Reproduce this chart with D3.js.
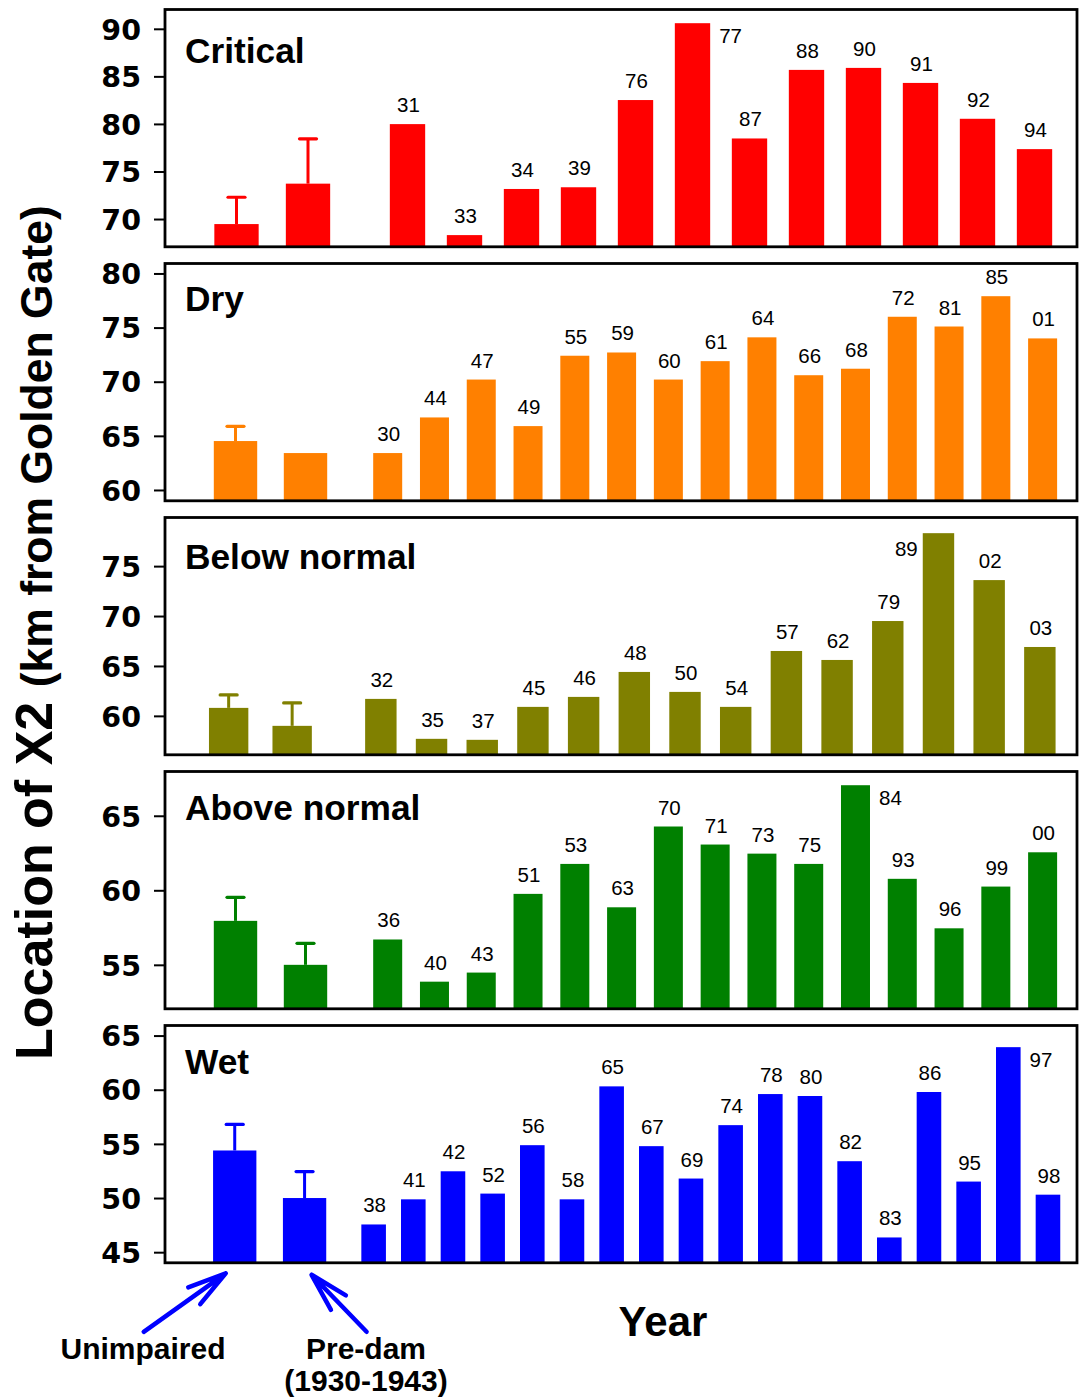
<!DOCTYPE html>
<html>
<head>
<meta charset="utf-8">
<script src="https://cdn.jsdelivr.net/npm/d3@7"></script>
<style>
  html, body { margin: 0; padding: 0; background: #fff; }
  svg { display: block; }
</style>
</head>
<body>
<svg id="chart" width="1083" height="1400"></svg>
<script>
// ---------------- DATA ----------------
const panelNames = ["Critical", "Dry", "Below normal", "Above normal", "Wet"];
const panelColors = ["#ff0000", "#ff8000", "#808000", "#008000", "#0000ff"];
const refCategories = ["Unimpaired", "Pre-dam"];

const criticalYears = ["31","33","34","39","76","77","87","88","90","91","92","94"];
const criticalValues = [79.98,68.31,73.16,73.34,82.51,90.59,78.47,85.68,85.89,84.31,80.54,77.35];
const criticalRef = [69.47, 73.72];
const criticalRefUpper = [72.29, 78.43];
const criticalTicks = [70, 75, 80, 85, 90];

const dryYears = ["30","44","47","49","55","59","60","61","64","66","68","72","81","85","01"];
const dryValues = [63.41,66.7,70.2,65.9,72.4,72.7,70.2,71.9,74.1,70.6,71.2,76.0,75.1,77.9,74.0];
const dryRef = [64.52, 63.41];
const dryRefUpper = [65.88, null];
const dryTicks = [60, 65, 70, 75, 80];

const belowYears = ["32","35","37","45","46","48","50","54","57","62","79","89","02","03"];
const belowValues = [61.7,57.7,57.6,60.9,61.9,64.4,62.4,60.9,66.5,65.6,69.5,78.3,73.6,66.9];
const belowRef = [60.8, 59.0];
const belowRefUpper = [62.1, 61.3];
const belowTicks = [60, 65, 70, 75];

const aboveYears = ["36","40","43","51","53","63","70","71","73","75","84","93","96","99","00"];
const aboveValues = [56.7,53.87,54.48,59.76,61.77,58.86,64.28,63.07,62.46,61.77,67.05,60.77,57.45,60.25,62.55];
const aboveRef = [57.95, 55.0];
const aboveRefUpper = [59.53, 56.44];
const aboveTicks = [55, 60, 65];

const wetYears = ["38","41","42","52","56","58","65","67","69","74","78","80","82","83","86","95","97","98"];
const wetValues = [47.56,49.88,52.47,50.41,54.88,49.88,60.31,54.79,51.8,56.73,59.6,59.42,53.4,46.36,59.79,51.52,63.93,50.31];
const wetRef = [54.39, 50.0];
const wetRefUpper = [56.8, 52.44];
const wetTicks = [45, 50, 55, 60, 65];

// labels placed beside the bar instead of above it
const sideLabels = { "77": "right", "89": "left", "84": "right", "97": "right" };

// ---------------- LAYOUT ----------------
const series = [
  { years: criticalYears, values: criticalValues, ref: criticalRef, upper: criticalRefUpper, ticks: criticalTicks },
  { years: dryYears, values: dryValues, ref: dryRef, upper: dryRefUpper, ticks: dryTicks },
  { years: belowYears, values: belowValues, ref: belowRef, upper: belowRefUpper, ticks: belowTicks },
  { years: aboveYears, values: aboveValues, ref: aboveRef, upper: aboveRefUpper, ticks: aboveTicks },
  { years: wetYears, values: wetValues, ref: wetRef, upper: wetRefUpper, ticks: wetTicks }
];

const layout = [
  { domain: [67.08, 92.03], refRange: [200.75, 343.75], yearRange: [379, 1063], titleDy: 53.5 },
  { domain: [59.0, 80.92], refRange: [200.5, 340.5], yearRange: [364.3, 1066], titleDy: 47.7 },
  { domain: [56.1, 79.87], refRange: [196.9, 323.9], yearRange: [355.5, 1065.2], titleDy: 51 },
  { domain: [52.05, 67.97], refRange: [200.5, 340.5], yearRange: [364.3, 1066], titleDy: 48.3 },
  { domain: [44.02, 65.93], refRange: [199.8, 339.5], yearRange: [353.8, 1067.8], titleDy: 48.6 }
];

const frameLeft = 165, frameRight = 1077;
const panelTop0 = 9.5, panelStep = 254, panelH = 237.3;
const pad = 0.38;

const svg = d3.select("#chart");
const labelFont = "'Liberation Sans', Arial, sans-serif";

let wetScales = null;

series.forEach((s, i) => {
  const L = layout[i];
  const top = panelTop0 + panelStep * i;
  const bottom = top + panelH;
  const color = panelColors[i];

  const y = d3.scaleLinear().domain(L.domain).range([bottom, top]);
  const xRef = d3.scaleBand().domain(refCategories).range(L.refRange).paddingInner(pad).paddingOuter(pad / 2);
  const xYear = d3.scaleBand().domain(s.years).range(L.yearRange).paddingInner(pad).paddingOuter(pad / 2);
  if (i === 4) wetScales = { xRef, y, bottom };

  const g = svg.append("g");

  // reference bars (unimpaired / pre-dam)
  g.selectAll("rect.ref").data(refCategories).join("rect")
    .attr("class", "ref")
    .attr("x", d => xRef(d))
    .attr("width", xRef.bandwidth())
    .attr("y", (d, k) => y(s.ref[k]))
    .attr("height", (d, k) => bottom - y(s.ref[k]))
    .attr("fill", color);

  // error bars
  refCategories.forEach((d, k) => {
    if (s.upper[k] == null) return;
    const cx = xRef(d) + xRef.bandwidth() / 2;
    g.append("line").attr("x1", cx).attr("x2", cx)
      .attr("y1", y(s.ref[k])).attr("y2", y(s.upper[k]))
      .attr("stroke", color).attr("stroke-width", 3);
    g.append("line").attr("x1", cx - 8.5).attr("x2", cx + 8.5)
      .attr("y1", y(s.upper[k])).attr("y2", y(s.upper[k]))
      .attr("stroke", color).attr("stroke-width", 3.2).attr("stroke-linecap", "round");
  });

  // year bars
  g.selectAll("rect.yr").data(s.years).join("rect")
    .attr("class", "yr")
    .attr("x", d => xYear(d))
    .attr("width", xYear.bandwidth())
    .attr("y", (d, k) => y(s.values[k]))
    .attr("height", (d, k) => bottom - y(s.values[k]))
    .attr("fill", color);

  // year labels
  g.selectAll("text.yl").data(s.years).join("text")
    .attr("class", "yl")
    .attr("font-family", labelFont)
    .attr("font-size", 20.5)
    .attr("fill", "#000")
    .each(function (d, k) {
      const t = d3.select(this);
      const yt = y(s.values[k]);
      const side = sideLabels[d];
      if (side === "right") {
        t.attr("x", xYear(d) + xYear.bandwidth() + 9).attr("y", yt + 20).attr("text-anchor", "start");
      } else if (side === "left") {
        t.attr("x", xYear(d) - 5).attr("y", yt + 23).attr("text-anchor", "end");
      } else {
        t.attr("x", xYear(d) + xYear.bandwidth() / 2 + 1).attr("y", yt - 12).attr("text-anchor", "middle");
      }
    })
    .text(d => d);

  // frame
  g.append("rect")
    .attr("x", frameLeft).attr("y", top)
    .attr("width", frameRight - frameLeft).attr("height", panelH)
    .attr("fill", "none").attr("stroke", "#000").attr("stroke-width", 2.8);

  // y axis
  const axis = d3.axisLeft(y).tickValues(s.ticks).tickSize(11).tickPadding(13).tickFormat(d3.format("d"));
  const ag = g.append("g").attr("transform", `translate(${frameLeft},0)`).call(axis);
  ag.select(".domain").remove();
  ag.selectAll(".tick line").attr("stroke", "#000").attr("stroke-width", 2);
  ag.selectAll(".tick text")
    .attr("font-family", "'DejaVu Sans', sans-serif")
    .attr("font-weight", "bold")
    .attr("font-size", 28.5)
    .attr("fill", "#000")
    .attr("dy", "0.36em");

  // panel title
  g.append("text")
    .attr("x", 185).attr("y", top + L.titleDy)
    .attr("font-family", labelFont).attr("font-weight", "bold").attr("font-size", 35.3)
    .attr("fill", "#000")
    .text(panelNames[i]);
});

// ---------------- AXIS TITLES ----------------
const yt = svg.append("text")
  .attr("transform", "translate(52,1060) rotate(-90)")
  .attr("font-family", labelFont).attr("font-weight", "bold")
  .attr("fill", "#000");
yt.append("tspan").attr("font-size", 52).text("Location of X2 ");
yt.append("tspan").attr("font-size", 44.5).text("(km from Golden Gate)");

svg.append("text")
  .attr("x", 663).attr("y", 1336).attr("text-anchor", "middle")
  .attr("font-family", labelFont).attr("font-weight", "bold").attr("font-size", 42)
  .attr("fill", "#000").text("Year");

// ---------------- ANNOTATIONS ----------------
const ann = svg.append("g").attr("font-family", labelFont).attr("font-weight", "bold").attr("font-size", 30).attr("fill", "#000");
const cU = wetScales.xRef("Unimpaired") + wetScales.xRef.bandwidth() / 2;
const cP = wetScales.xRef("Pre-dam") + wetScales.xRef.bandwidth() / 2;
const b = wetScales.bottom;

ann.append("text").attr("x", 143).attr("y", 1359).attr("text-anchor", "middle").text("Unimpaired");
ann.append("text").attr("x", 366).attr("y", 1359).attr("text-anchor", "middle").text("Pre-dam");
ann.append("text").attr("x", 366).attr("y", 1391).attr("text-anchor", "middle").text("(1930-1943)");

function arrow(x0, y0, x1, y1) {
  const ang = Math.atan2(y0 - y1, x0 - x1);
  const len = 40, spread = 15 * Math.PI / 180;
  const p = d3.path();
  p.moveTo(x0, y0); p.lineTo(x1, y1);
  p.moveTo(x1 + len * Math.cos(ang - spread), y1 + len * Math.sin(ang - spread));
  p.lineTo(x1, y1);
  p.lineTo(x1 + len * Math.cos(ang + spread), y1 + len * Math.sin(ang + spread));
  svg.append("path").attr("d", p.toString())
    .attr("fill", "none").attr("stroke", "#0000ff").attr("stroke-width", 4.5)
    .attr("stroke-linecap", "round").attr("stroke-linejoin", "round");
}
arrow(cU - 91, b + 69, cU - 9, b + 10.5);
arrow(cP + 62, b + 69, cP + 7, b + 12);
</script>
</body>
</html>
